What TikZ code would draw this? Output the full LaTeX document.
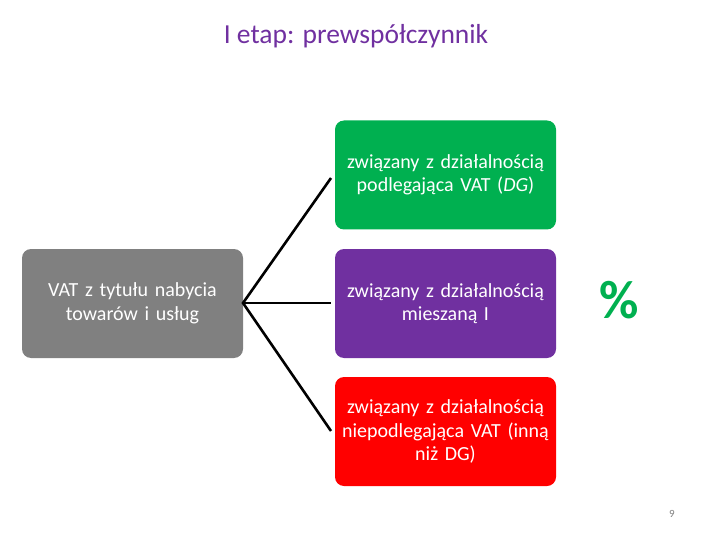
\documentclass[tikz,border=0pt]{standalone}
\usepackage{fontspec}
\setmainfont{Carlito}
\definecolor{tgreen}{HTML}{00B050}
\definecolor{tpurple}{HTML}{7030A0}
\definecolor{tred}{HTML}{FF0000}
\definecolor{tgray}{HTML}{808080}
\begin{document}
\begin{tikzpicture}[x=1pt,y=-1pt,
  box/.style={rounded corners=9pt,minimum width=221pt,minimum height=109pt,text width=226pt,align=center,text=white,font=\fontsize{20}{23.5}\selectfont,inner ysep=0pt,inner xsep=-2.5pt},
  conn/.style={line width=2.6pt,black}]
\useasboundingbox (0,0) rectangle (720,540);
\node[font=\fontsize{27.5}{30}\selectfont,text=tpurple] (title) at (356,36) {I etap: prewspółczynnik};
\node[box,fill=tgray] (src) at (132.5,303.5) {VAT z tytułu nabycia\\towarów i usług};
\node[box,fill=tgreen] (g) at (445.5,175) {związany z działalnością\\podlegająca VAT (\textit{DG})};
\node[box,fill=tpurple] (p) at (445.5,303.5) {związany z działalnością\\mieszaną I};
\node[box,fill=tred] (r) at (445.5,431.5) {związany z działalnością\\niepodlegająca VAT (inną\\niż DG)};
\coordinate (hub) at (243,303);
\coordinate (ge) at (331,178);
\coordinate (pe) at (331,303);
\coordinate (re) at (331,431);
\draw[conn] (ge) -- (hub) -- (re);
\draw[conn] (hub) -- (pe);
\node[font=\fontsize{54}{54}\bfseries\selectfont,text=tgreen] (pct) at (619,300) {\%};
\node[font=\fontsize{11}{11}\selectfont,text=tgray] (pg) at (672,514) {9};
\end{tikzpicture}
\end{document}
